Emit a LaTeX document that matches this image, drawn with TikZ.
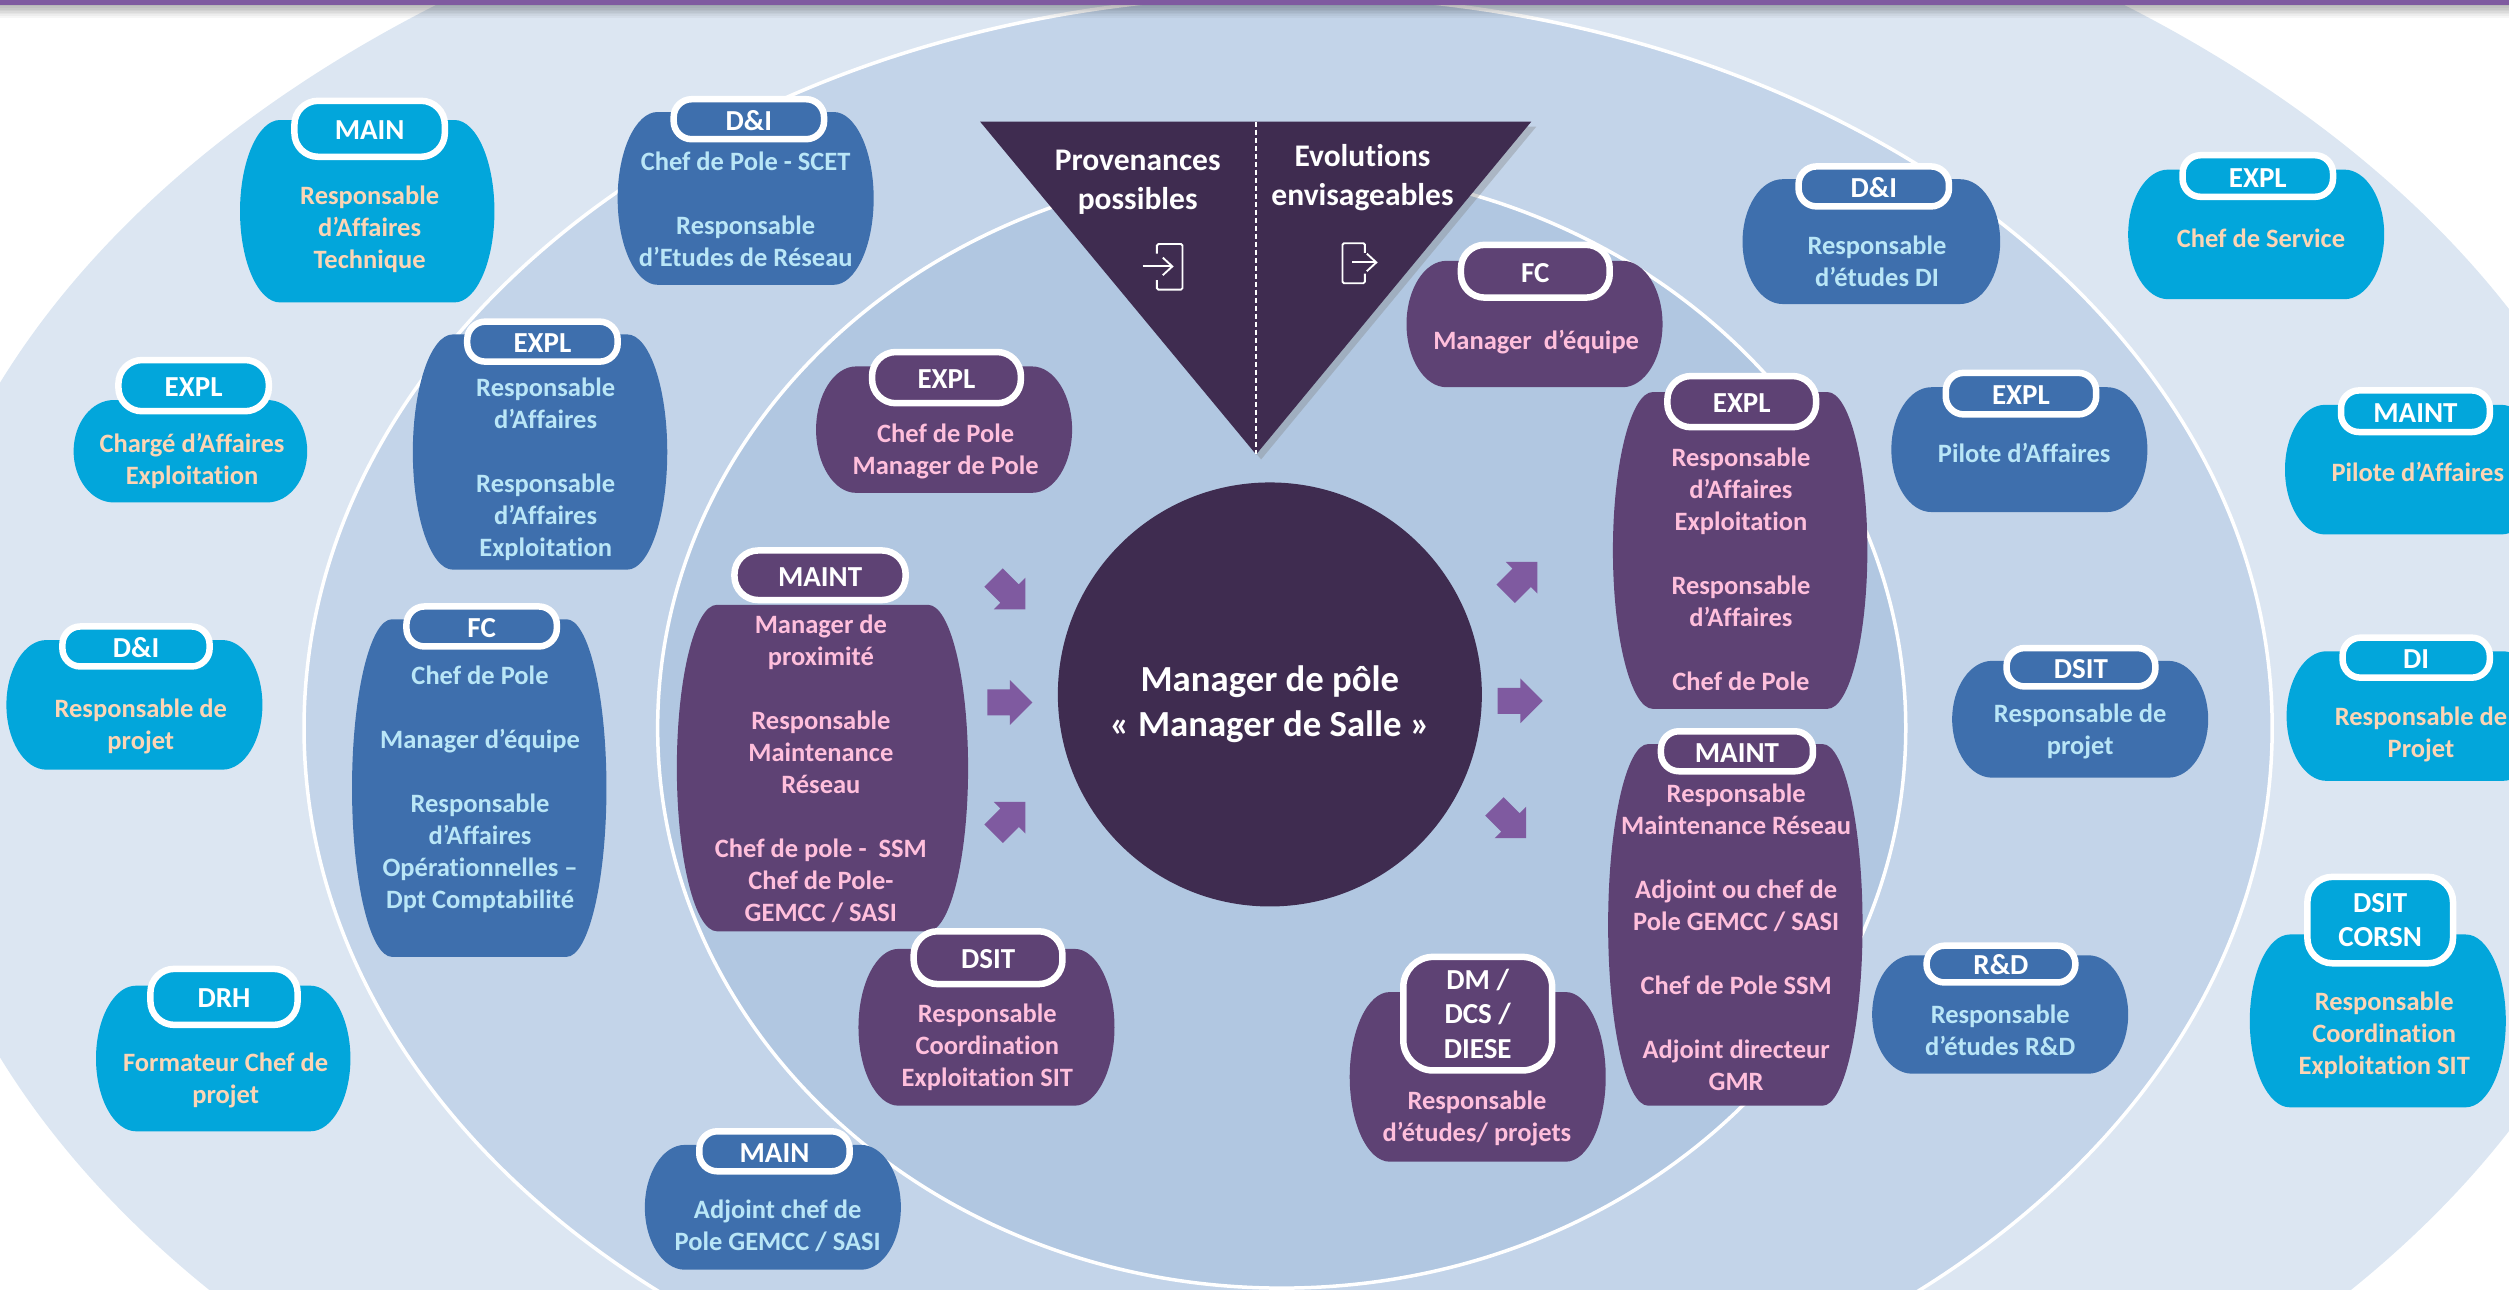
\documentclass[tikz,border=0pt]{standalone}
\usepackage{fontspec}
\setmainfont{Carlito}[Ligatures=NoCommon]
\usetikzlibrary {arrows.meta,calc,shadows,shapes.arrows}
\definecolor{ringout}{HTML}{DCE6F2}
\definecolor{ringmid}{HTML}{C3D4E9}
\definecolor{ringin}{HTML}{B1C7E1}
\definecolor{cyanfill}{HTML}{02A6DB}
\definecolor{bluefill}{HTML}{3E6FAD}
\definecolor{purplefill}{HTML}{5E4274}
\definecolor{darkfill}{HTML}{3F2C50}
\definecolor{bandfill}{HTML}{7F5AA0}
\definecolor{cyantxt}{HTML}{FCD5B5}
\definecolor{bluetxt}{HTML}{B9E6F7}
\definecolor{purpletxt}{HTML}{FFBFDC}
\newcommand{\un}{0.64pt}
\newcommand{\ppbb}{path picture bounding box}
\newcommand{\blankln}{12.8pt}
\tikzset{card/.style={
    % The shape:
    rectangle,
    anchor=north west,
    inner sep=0pt,
    outer sep=0pt,
    % The filling, with elliptical corners:
    path picture={\fill[#1] (\ppbb.west)
      .. controls ($(\ppbb.west)!.55!(\ppbb.north west)$) and ([xshift=7.2pt]\ppbb.north west) .. ([xshift=16pt]\ppbb.north west)
      -- ([xshift=-16pt]\ppbb.north east)
      .. controls ([xshift=-7.2pt]\ppbb.north east) and ($(\ppbb.east)!.55!(\ppbb.north east)$) .. (\ppbb.east)
      .. controls ($(\ppbb.east)!.55!(\ppbb.south east)$) and ([xshift=-7.2pt]\ppbb.south east) .. ([xshift=-16pt]\ppbb.south east)
      -- ([xshift=16pt]\ppbb.south west)
      .. controls ([xshift=7.2pt]\ppbb.south west) and ($(\ppbb.west)!.55!(\ppbb.south west)$) .. (\ppbb.west) -- cycle;},
    },
    size/.style 2 args={minimum width=#1*\un,minimum height=#2*\un},
    tabfill/.style={
    rectangle,rounded corners=7.2pt,
    draw=white,
    line width=2.6pt,
    fill=#1,
    text=white,
    align=center,
    inner sep=0pt,
    execute at begin node={\rule{0pt}{8.8pt}},
    font=\fontsize{11.6}{13.8}\selectfont\bfseries,
    },
    tall/.style={rounded corners=9.5pt},
    cardtext/.style={
    align=center,
    inner sep=0pt,
    text=#1,
    font=\fontsize{10.6}{12.8}\selectfont\bfseries,
    },
    headtext/.style={
    align=center,
    inner sep=0pt,
    text=white,
    font=\fontsize{12.6}{15.7}\selectfont\bfseries,
    },
    flow/.style={
    single arrow,
    fill=bandfill,
    inner sep=5pt,
    outer sep=0pt,
    minimum height=18pt,
    minimum width=17.5pt,
    single arrow head extend=3.75pt,
    },
    iconline/.style={draw=white,line width=0.75pt,rounded corners=0.6pt},
}

\begin{document}
\begin{tikzpicture}[x=\un,y=-\un]
    \useasboundingbox (0,0) rectangle (1568,806);
    \clip (0,0) rectangle (1568,806);

    % rings
    \fill[ringout] (800,450) ellipse [x radius=862,y radius=565];
    \draw[fill=ringmid,draw=white,line width=1.4pt] (805,455) ellipse [x radius=615,y radius=458];
    \draw[fill=ringin,draw=white,line width=1.4pt]  (801,455) ellipse [x radius=390,y radius=350];

    % top band
    \foreach \k in {0,...,7}
      \fill[black,opacity=0.28-0.035*\k] (0,3+\k) rectangle (1568,4+\k);
    \fill[bandfill] (0,0) rectangle (1568,3);

    % triangle
    \fill[darkfill,drop shadow={shadow xshift=2pt,shadow yshift=-2pt,opacity=.35}] (612.5,76) -- (957,76) -- (785,284) -- cycle;
    \coordinate (apex) at (785,284);
    \coordinate (base) at (785,76);
    \draw[white,dashed,line width=0.5pt,dash pattern=on 2pt off 1.2pt] (base) -- (apex);
    \node (prov) [headtext] at (711,114)  {Provenances\\possibles};
    \node (evol) [headtext] at (851.5,111) {Evolutions\\envisageables};

    % door icons
    \draw[iconline] (723,158.5) -- (723,152.5) -- (739,152.5) -- (739,181) -- (723,181) -- (723,175);
    \coordinate (intail) at (714,166.5);
    \coordinate (inhead) at (733.5,166.5);
    \draw[iconline,-{Straight Barb[length=3.8pt,width=7pt]}] (intail) -- (inhead);
    \draw[iconline] (853,158) -- (853,152) -- (839,152) -- (839,177) -- (853,177) -- (853,171);
    \coordinate (outtail) at (845,164);
    \coordinate (outhead) at (861,164);
    \draw[iconline,-{Straight Barb[length=3.8pt,width=7pt]}] (outtail) -- (outhead);

    % manager
    \node (manager) [circle,fill=darkfill,minimum size=265*\un,inner sep=0pt,outer sep=0pt] at (793.6,434) {};
    \node (managertext) [headtext,text=white,font=\fontsize{14.7}{17.9}\selectfont\bfseries] at (793.6,440) {Manager de pôle\\« Manager de Salle »};

    % arrows
    \node (arrinA)  [flow,rotate=-45] at (628,368) {};
    \node (arrinB)  [flow]            at (627,439) {};
    \node (arrinC)  [flow,rotate=45]  at (628,514) {};
    \node (arroutA) [flow,rotate=45]  at (948,364) {};
    \node (arroutB) [flow]            at (946,438) {};
    \node (arroutC) [flow,rotate=-45] at (941,511) {};

    % outer ring
    \node (mainC)    [card=cyanfill,size={159}{114}] at (150,75)   {};
    \node (mainCtab) [tabfill=cyanfill,tall,size={94}{35}] at (231,80.5) {MAIN};
    \node (mainCtxt) [cardtext=cyantxt] at (231,143) {Responsable\\d’Affaires\\Technique};

    \node (explC)    [card=cyanfill,size={146}{64}] at (46,250)    {};
    \node (explCtab) [tabfill=cyanfill,tall,size={94}{32}] at (121,241) {EXPL};
    \node (explCtxt) [cardtext=cyantxt] at (120,288) {Chargé d’Affaires\\Exploitation};

    \node (diC)    [card=cyanfill,size={160}{81}] at (4,400)       {};
    \node (diCtab) [tabfill=cyanfill,size={92}{25}] at (85,404)    {D\&I};
    \node (diCtxt) [cardtext=cyantxt] at (88,454) {Responsable de\\projet};

    \node (drhC)    [card=cyanfill,size={159}{91}] at (60,616)     {};
    \node (drhCtab) [tabfill=cyanfill,tall,size={92}{35}] at (140,623)  {DRH};
    \node (drhCtxt) [cardtext=cyantxt] at (141,675) {Formateur Chef de\\projet};

    \node (servC)    [card=cyanfill,size={160}{81}] at (1330,106)  {};
    \node (servCtab) [tabfill=cyanfill,size={94}{26}] at (1411,110) {EXPL};
    \node (servCtxt) [cardtext=cyantxt] at (1413,149) {Chef de Service};

    \node (maintC)    [card=cyanfill,size={160}{81}] at (1428,253)  {};
    \node (maintCtab) [tabfill=cyanfill,size={93}{26}] at (1509.5,257) {MAINT};
    \node (maintCtxt) [cardtext=cyantxt] at (1511,295) {Pilote d’Affaires};

    \node (dicC)    [card=cyanfill,size={160}{81}] at (1429,407)   {};
    \node (dicCtab) [tabfill=cyanfill,size={92}{25}] at (1510,411) {DI};
    \node (dicCtxt) [cardtext=cyantxt] at (1513,459) {Responsable de\\Projet};

    \node (corsn)    [card=cyanfill,size={160}{108}] at (1406,584) {};
    \node (corsntab) [tabfill=cyanfill,size={91}{54},rounded corners=10pt] at (1487.5,575) {DSIT\\CORSN};
    \node (corsntxt) [cardtext=cyantxt] at (1490,647) {Responsable\\Coordination\\Exploitation SIT};

    % middle ring
    \node (scet)    [card=bluefill,size={160}{108}] at (386,70)    {};
    \node (scettab) [tabfill=bluefill,size={94}{25}] at (468,74.5) {D\&I};
    \node (scettxt) [cardtext=bluetxt] at (466,131) {Chef de Pole - SCET\\[\blankln]Responsable\\d’Etudes de Réseau};

    \node (raff)    [card=bluefill,size={159}{147}] at (258,209)   {};
    \node (rafftab) [tabfill=bluefill,size={94}{25}] at (339,213.5) {EXPL};
    \node (rafftxt) [cardtext=bluetxt] at (341,293) {Responsable\\d’Affaires\\[\blankln]Responsable\\d’Affaires\\Exploitation};

    \node (fcb)    [card=bluefill,size={159}{211}] at (220,387)    {};
    \node (fcbtab) [tabfill=bluefill,size={94}{25}] at (301,391.5) {FC};
    \node (fcbtxt) [cardtext=bluetxt] at (300,493) {Chef de Pole\\[\blankln]Manager d’équipe\\[\blankln]Responsable\\d’Affaires\\Opérationnelles –\\Dpt Comptabilité};

    \node (adj)    [card=bluefill,size={160}{78}] at (403,715.5)   {};
    \node (adjtab) [tabfill=bluefill,size={94}{25}] at (484,719.5) {MAIN};
    \node (adjtxt) [cardtext=bluetxt] at (486,766) {Adjoint chef de\\Pole GEMCC / SASI};

    \node (etdi)    [card=bluefill,size={161}{78}] at (1089,112)   {};
    \node (etditab) [tabfill=bluefill,size={94}{25}] at (1171,116.5) {D\&I};
    \node (etditxt) [cardtext=bluetxt] at (1173,163) {Responsable\\d’études DI};

    \node (pilot)    [card=bluefill,size={160}{78}] at (1182,242)  {};
    \node (pilottab) [tabfill=bluefill,size={94}{26}] at (1263,246) {EXPL};
    \node (pilottxt) [cardtext=bluetxt] at (1265,283) {Pilote d’Affaires};

    \node (dsitb)    [card=bluefill,size={160}{73}] at (1220,413)  {};
    \node (dsitbtab) [tabfill=bluefill,size={93}{24}] at (1300.5,417) {DSIT};
    \node (dsitbtxt) [cardtext=bluetxt] at (1300,457) {Responsable de\\projet};

    \node (rd)    [card=bluefill,size={160}{74}] at (1170,597)     {};
    \node (rdtab) [tabfill=bluefill,size={93}{23}] at (1250.5,602.5) {R\&D};
    \node (rdtxt) [cardtext=bluetxt] at (1250,644) {Responsable\\d’études R\&D};

    % inner ring
    \node (chef)    [card=purplefill,size={160}{79}] at (510,229)  {};
    \node (cheftab) [tabfill=purplefill,tall,size={93}{32}] at (591.5,236) {EXPL};
    \node (cheftxt) [cardtext=purpletxt] at (591,282) {Chef de Pole\\Manager de Pole};

    \node (prox)    [card=purplefill,size={182}{204}] at (423,378) {};
    \node (proxtab) [tabfill=purplefill,tall,size={107}{31}] at (512.5,359.5) {MAINT};
    \node (proxtxt) [cardtext=purpletxt] at (513,480.5) {Manager de\\proximité\\[\blankln]Responsable\\Maintenance\\Réseau\\[\blankln]Chef de pole -\ \ SSM\\Chef de Pole-\\GEMCC / SASI};

    \node (coord)    [card=purplefill,size={160}{98}] at (536.5,593) {};
    \node (coordtab) [tabfill=purplefill,tall,size={93}{33}] at (617.5,598.5) {DSIT};
    \node (coordtxt) [cardtext=purpletxt] at (617,654.5) {Responsable\\Coordination\\Exploitation SIT};

    \node (equipe)    [card=purplefill,size={160}{79}] at (879,163) {};
    \node (equipetab) [tabfill=purplefill,tall,size={93}{33}] at (959.5,169.5) {FC};
    \node (equipetxt) [cardtext=purpletxt] at (960,214) {Manager\ \ d’équipe};

    \node (ramix)    [card=purplefill,size={159}{198}] at (1008,245) {};
    \node (ramixtab) [tabfill=purplefill,tall,size={93}{32}] at (1088.5,251) {EXPL};
    \node (ramixtxt) [cardtext=purpletxt] at (1088,356) {Responsable\\d’Affaires\\Exploitation\\[\blankln]Responsable\\d’Affaires\\[\blankln]Chef de Pole};

    \node (maint)    [card=purplefill,size={159}{226}] at (1005,465) {};
    \node (mainttab) [tabfill=purplefill,size={95}{25}] at (1085.5,469.5) {MAINT};
    \node (mainttxt) [cardtext=purpletxt] at (1085,586) {Responsable\\Maintenance Réseau\\[\blankln]Adjoint ou chef de\\Pole GEMCC / SASI\\[\blankln]Chef de Pole SSM\\[\blankln]Adjoint directeur\\GMR};

    \node (dm)    [card=purplefill,size={160}{106}] at (843.5,620) {};
    \node (dmtab) [tabfill=purplefill,size={93}{71},rounded corners=12pt] at (923.5,633.5) {DM /\\DCS /\\DIESE};
    \node (dmtxt) [cardtext=purpletxt] at (923,699) {Responsable\\d’études/ projets};
\end{tikzpicture}
\end{document}
